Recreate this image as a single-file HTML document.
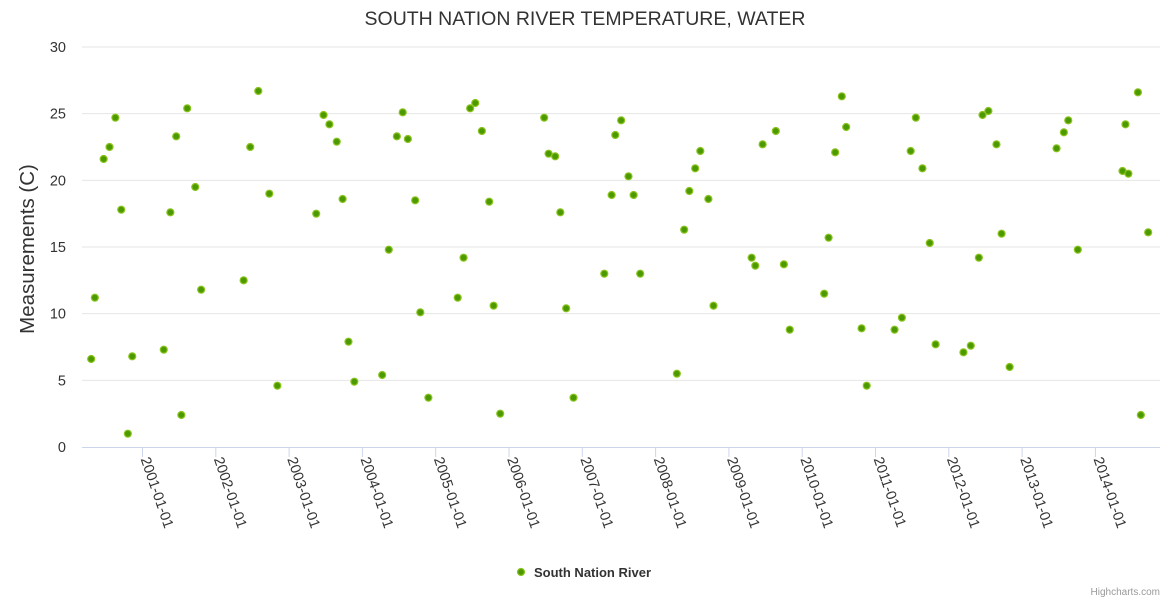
<!DOCTYPE html>
<html><head><meta charset="utf-8"><style>
body{margin:0;background:#fff;font-family:"Liberation Sans",sans-serif;}
svg text{font-family:"Liberation Sans",sans-serif;}
</style></head><body>
<svg id="chart" width="1170" height="600" xmlns="http://www.w3.org/2000/svg">
<rect width="1170" height="600" fill="#fff"/>
<text x="585" y="25" text-anchor="middle" font-size="19.5" fill="#333">SOUTH NATION RIVER TEMPERATURE, WATER</text>
<g id="grid"></g><g id="xaxis"></g><g id="yaxis"></g><g id="points"></g>
<text transform="translate(34,249) rotate(-90)" text-anchor="middle" font-size="20.5" fill="#333">Measurements (C)</text>
<g>
<circle cx="521" cy="572" r="3.5" fill="#4c9a00" stroke="#8cc420" stroke-width="1.2"/>
<text x="534" y="577" font-size="13" font-weight="bold" fill="#333">South Nation River</text>
</g>
<text x="1160" y="595" text-anchor="end" font-size="10" fill="#999">Highcharts.com</text>
</svg>
<script>
const yearTime = [2000.30,2000.35,2000.47,2000.55,2000.63,2000.71,2000.80,2000.86,2001.29,2001.38,2001.46,2001.53,2001.61,2001.72,2001.80,2002.38,2002.47,2002.58,2002.73,2002.84,2003.37,2003.47,2003.55,2003.65,2003.73,2003.81,2003.89,2004.27,2004.36,2004.47,2004.55,2004.62,2004.72,2004.79,2004.90,2005.30,2005.38,2005.47,2005.54,2005.63,2005.73,2005.79,2005.88,2006.48,2006.54,2006.63,2006.70,2006.78,2006.88,2007.30,2007.40,2007.45,2007.53,2007.63,2007.70,2007.79,2008.29,2008.39,2008.46,2008.54,2008.61,2008.72,2008.79,2009.31,2009.36,2009.46,2009.64,2009.75,2009.83,2010.30,2010.36,2010.45,2010.54,2010.60,2010.81,2010.88,2011.26,2011.36,2011.48,2011.55,2011.64,2011.74,2011.82,2012.20,2012.30,2012.41,2012.46,2012.54,2012.65,2012.72,2012.83,2013.47,2013.57,2013.63,2013.76,2014.37,2014.41,2014.45,2014.58,2014.62,2014.72];
const temperature = [6.6,11.2,21.6,22.5,24.7,17.8,1.0,6.8,7.3,17.6,23.3,2.4,25.4,19.5,11.8,12.5,22.5,26.7,19.0,4.6,17.5,24.9,24.2,22.9,18.6,7.9,4.9,5.4,14.8,23.3,25.1,23.1,18.5,10.1,3.7,11.2,14.2,25.4,25.8,23.7,18.4,10.6,2.5,24.7,22.0,21.8,17.6,10.4,3.7,13.0,18.9,23.4,24.5,20.3,18.9,13.0,5.5,16.3,19.2,20.9,22.2,18.6,10.6,14.2,13.6,22.7,23.7,13.7,8.8,11.5,15.7,22.1,26.3,24.0,8.9,4.6,8.8,9.7,22.2,24.7,20.9,15.3,7.7,7.1,7.6,14.2,24.9,25.2,22.7,16.0,6.0,22.4,23.6,24.5,14.8,20.7,24.2,20.5,26.6,2.4,16.1];
const yTicks = [0,5,10,15,20,25,30];
const xTickYears = [2001,2002,2003,2004,2005,2006,2007,2008,2009,2010,2011,2012,2013,2014];
const xTickLabels = ["2001-01-01","2002-01-01","2003-01-01","2004-01-01","2005-01-01","2006-01-01","2007-01-01","2008-01-01","2009-01-01","2010-01-01","2011-01-01","2012-01-01","2013-01-01","2014-01-01"];

const NS="http://www.w3.org/2000/svg";
const L=82,R=1160,T=47,B=447;
function xS(t){return 142.5+(t-2001)*73.3;}
function yS(v){return B-(v-0)/(30-0)*(B-T);}
function mk(tag,attrs,parent){const e=document.createElementNS(NS,tag);for(const k in attrs)e.setAttribute(k,attrs[k]);parent.appendChild(e);return e;}
const grid=document.getElementById('grid'),xa=document.getElementById('xaxis'),ya=document.getElementById('yaxis'),pts=document.getElementById('points');
yTicks.forEach(v=>{
  const y=yS(v);
  if(v!==0){const g=mk('line',{x1:L,x2:R,y1:y,y2:y,stroke:'#e6e6e6','stroke-width':1},grid);
  
  }
  const t=mk('text',{x:66,y:y+5,'text-anchor':'end','font-size':14.5,fill:'#333'},ya);
  
  
  t.textContent=v;
});
const ax=mk('line',{x1:L,x2:R,y1:B+0.5,y2:B+0.5,stroke:'#ccd6eb','stroke-width':1},xa);


xTickYears.forEach((yr,i)=>{
  const x=xS(yr);
  const tk=mk('line',{x1:x,x2:x,y1:B,y2:B+10,stroke:'#ccd6eb','stroke-width':1},xa);
  
  
  const t=mk('text',{transform:`translate(${x-2},${B+12}) rotate(71)`,'font-size':14.5,fill:'#333'},xa);
  
  
  t.textContent=xTickLabels[i];
});
yearTime.forEach((t,i)=>{
  const c=mk('circle',{cx:xS(t),cy:yS(temperature[i]),r:3.5,fill:'#4c9a00',stroke:'#8cc420','stroke-width':1.2},pts);
  
  
});
</script>
</body></html>
